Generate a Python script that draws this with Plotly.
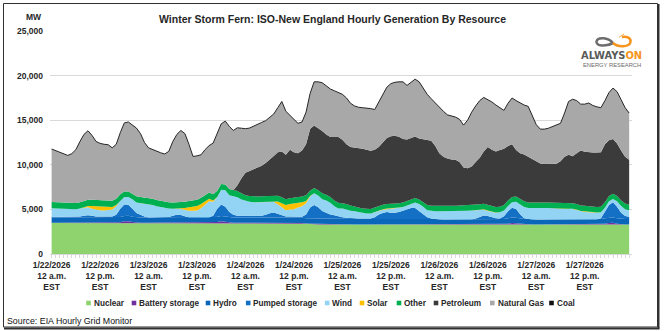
import plotly.graph_objects as go

# ---------------------------------------------------------------------------
# Hourly generation by resource, ISO-New England, 1/22/2026 00:00 - 1/27/2026 23:00 EST (MW)
# ---------------------------------------------------------------------------
HOURS = list(range(144))

TICK_HOURS = [0, 12, 24, 36, 48, 60, 72, 84, 96, 108, 120, 132]
TICK_LABELS = [
    "1/22/2026<br>12 a.m.<br>EST", "1/22/2026<br>12 p.m.<br>EST",
    "1/23/2026<br>12 a.m.<br>EST", "1/23/2026<br>12 p.m.<br>EST",
    "1/24/2026<br>12 a.m.<br>EST", "1/24/2026<br>12 p.m.<br>EST",
    "1/25/2026<br>12 a.m.<br>EST", "1/25/2026<br>12 p.m.<br>EST",
    "1/26/2026<br>12 a.m.<br>EST", "1/26/2026<br>12 p.m.<br>EST",
    "1/27/2026<br>12 a.m.<br>EST", "1/27/2026<br>12 p.m.<br>EST",
]

NUCLEAR = [
    3480, 3480, 3480, 3480, 3480, 3480, 3480, 3480, 3480, 3480, 3480, 3480, 3480, 3480, 3480, 3480, 3480, 3480, 3480, 3480, 3480, 3480, 3480, 3480,
    3480, 3480, 3480, 3480, 3480, 3480, 3480, 3480, 3480, 3480, 3480, 3480, 3480, 3480, 3480, 3480, 3480, 3480, 3480, 3480, 3480, 3480, 3480, 3480,
    3480, 3480, 3480, 3480, 3480, 3480, 3480, 3480, 3480, 3480, 3480, 3480, 3480, 3480, 3450, 3400, 3350, 3300, 3300, 3300, 3300, 3300, 3300, 3300,
    3300, 3300, 3300, 3300, 3300, 3300, 3300, 3300, 3300, 3300, 3300, 3300, 3300, 3300, 3300, 3300, 3300, 3300, 3300, 3300, 3300, 3300, 3300, 3300,
    3300, 3300, 3300, 3300, 3300, 3300, 3300, 3300, 3300, 3300, 3300, 3300, 3300, 3300, 3300, 3300, 3300, 3300, 3300, 3300, 3300, 3300, 3300, 3300,
    3300, 3300, 3300, 3300, 3300, 3300, 3300, 3300, 3300, 3300, 3300, 3300, 3300, 3300, 3300, 3300, 3300, 3300, 3300, 3300, 3300, 3300, 3300, 3300,
]
BATTERY = [
    20, 20, 20, 20, 20, 20, 20, 20, 20, 20, 20, 20, 20, 20, 20, 20, 20, 80, 180, 200, 100, 20, 20, 20,
    20, 20, 20, 20, 20, 20, 60, 80, 40, 20, 20, 20, 20, 20, 20, 20, 20, 100, 180, 120, 20, 20, 20, 20,
    20, 20, 20, 20, 20, 20, 50, 60, 20, 20, 20, 20, 20, 20, 20, 20, 60, 80, 40, 20, 20, 20, 40, 20,
    20, 20, 20, 20, 20, 20, 20, 20, 20, 20, 50, 60, 20, 20, 20, 20, 20, 60, 70, 20, 20, 20, 20, 20,
    20, 20, 20, 20, 20, 20, 20, 20, 20, 20, 20, 20, 20, 20, 20, 20, 20, 100, 180, 150, 60, 20, 20, 20,
    20, 20, 20, 20, 20, 20, 20, 20, 20, 20, 20, 20, 20, 20, 20, 20, 20, 100, 180, 200, 100, 20, 20, 20,
]
HYDRO = [
    600, 600, 600, 600, 600, 600, 600, 600, 600, 600, 600, 600, 600, 600, 600, 600, 600, 600, 600, 600, 600, 600, 600, 600,
    600, 600, 600, 600, 600, 600, 600, 600, 600, 600, 600, 600, 600, 600, 600, 600, 600, 600, 600, 600, 600, 600, 600, 600,
    600, 600, 600, 600, 600, 600, 600, 600, 600, 600, 600, 600, 600, 600, 600, 600, 600, 600, 600, 600, 600, 600, 600, 600,
    600, 600, 600, 600, 600, 600, 600, 600, 600, 600, 600, 600, 600, 600, 600, 600, 600, 600, 600, 600, 600, 600, 600, 600,
    550, 550, 550, 550, 550, 550, 550, 550, 550, 600, 600, 600, 600, 600, 600, 600, 600, 600, 600, 600, 600, 600, 600, 550,
    550, 550, 550, 550, 550, 550, 550, 550, 550, 550, 550, 550, 550, 550, 550, 550, 600, 600, 600, 600, 600, 600, 600, 600,
]
PUMPED_STORAGE = [
    50, 50, 50, 50, 50, 50, 50, 100, 200, 250, 200, 100, 100, 100, 100, 100, 300, 900, 1300, 1250, 900, 500, 300, 100,
    0, 0, 0, 0, 0, 50, 150, 250, 250, 100, 0, 0, 0, 0, 0, 0, 200, 900, 1300, 1100, 600, 300, 200, 150,
    200, 200, 200, 200, 200, 300, 450, 500, 400, 200, 100, 100, 100, 100, 100, 400, 1200, 1500, 1300, 900, 700, 500, 400, 300,
    200, 150, 100, 50, 50, 50, 50, 50, 200, 500, 650, 750, 700, 700, 800, 950, 1100, 1200, 1200, 900, 500, 200, 50, 0,
    0, 0, 0, 0, 0, 0, 0, 0, 0, 50, 250, 400, 350, 200, 100, 50, 300, 800, 1100, 1000, 500, 100, 0, 0,
    0, 0, 0, 0, 0, 0, 0, 0, 0, 0, 0, 0, 0, 0, 0, 0, 100, 700, 1400, 1700, 1300, 700, 350, 250,
]
WIND = [
    980, 950, 920, 900, 880, 870, 870, 900, 900, 890, 780, 760, 700, 690, 710, 780, 950, 910, 840, 870, 1070, 1180, 1300, 1450,
    1500, 1400, 1250, 1150, 1100, 950, 790, 690, 670, 750, 750, 750, 790, 1020, 1400, 1800, 1550, 1290, 1640, 1850, 1900, 2050, 2050, 1850,
    1650, 1550, 1510, 1510, 1520, 1450, 1290, 1190, 1080, 900, 700, 780, 830, 1000, 1190, 1280, 1240, 1320, 1310, 1330, 1380, 1330, 1010, 880,
    980, 930, 830, 830, 730, 630, 580, 570, 580, 460, 370, 310, 460, 440, 460, 410, 430, 540, 610, 780, 880, 780, 840, 880,
    910, 910, 920, 920, 930, 940, 960, 990, 1010, 940, 760, 650, 550, 570, 610, 710, 660, 580, 620, 810, 1120, 1260, 1240, 1270,
    1260, 1270, 1280, 1290, 1290, 1290, 1290, 1290, 1290, 1180, 1050, 880, 830, 800, 770, 760, 660, 480, 420, 360, 600, 760, 760, 740,
]
SOLAR = [
    0, 0, 0, 0, 0, 0, 0, 0, 50, 150, 300, 400, 450, 450, 400, 300, 150, 30, 0, 0, 0, 0, 0, 0,
    0, 0, 0, 0, 0, 0, 0, 0, 50, 200, 400, 500, 500, 480, 400, 300, 150, 30, 0, 0, 0, 0, 0, 0,
    0, 0, 0, 0, 0, 0, 0, 50, 300, 500, 600, 620, 620, 550, 450, 250, 50, 0, 0, 0, 0, 0, 0, 0,
    0, 0, 0, 0, 0, 0, 0, 0, 0, 20, 60, 80, 60, 40, 20, 0, 0, 0, 0, 0, 0, 0, 0, 0,
    0, 0, 0, 0, 0, 0, 0, 0, 0, 0, 30, 50, 60, 40, 20, 0, 0, 0, 0, 0, 0, 0, 0, 0,
    0, 0, 0, 0, 0, 0, 0, 0, 0, 30, 60, 80, 80, 60, 40, 20, 0, 0, 0, 0, 0, 0, 0, 0,
]
OTHER = [
    700, 700, 700, 700, 700, 700, 700, 700, 700, 700, 700, 700, 700, 700, 700, 700, 700, 700, 600, 600, 600, 700, 700, 700,
    700, 700, 700, 700, 700, 700, 700, 700, 700, 700, 700, 700, 700, 700, 700, 700, 700, 700, 650, 650, 700, 700, 700, 700,
    650, 650, 650, 650, 650, 650, 650, 650, 650, 650, 650, 650, 650, 650, 650, 650, 600, 600, 600, 650, 650, 650, 650, 650,
    600, 600, 600, 500, 500, 500, 500, 500, 500, 500, 500, 500, 500, 500, 500, 500, 500, 500, 500, 500, 500, 600, 600, 600,
    620, 620, 620, 620, 620, 620, 620, 620, 620, 620, 620, 620, 620, 620, 620, 620, 620, 620, 600, 600, 620, 620, 620, 620,
    620, 620, 620, 620, 620, 620, 620, 620, 620, 620, 620, 620, 620, 620, 620, 620, 620, 620, 600, 600, 600, 620, 620, 620,
]
PETROLEUM = [
    0, 0, 0, 0, 0, 0, 0, 0, 0, 0, 0, 0, 0, 0, 0, 0, 0, 0, 0, 0, 0, 0, 0, 0,
    0, 0, 0, 0, 0, 0, 0, 0, 0, 0, 0, 0, 0, 0, 0, 0, 0, 0, 0, 0, 0, 0, 650, 1700,
    2500, 2760, 3040, 3240, 3430, 3700, 4030, 4470, 4870, 5150, 4980, 5450, 5100, 4900, 5140, 5700, 6900, 7000, 6950, 7000, 6750, 6720, 7120, 7370,
    7100, 6700, 6550, 6650, 6700, 6700, 6650, 6540, 6500, 6600, 6970, 7400, 7560, 7660, 7450, 7120, 6900, 6850, 6900, 6850, 7050, 7280, 7290, 6700,
    5900, 5500, 5290, 5190, 5150, 4870, 4250, 4120, 4300, 4770, 5220, 5860, 6490, 6350, 6230, 6350, 6300, 6100, 5900, 5190, 5100, 5250, 5120, 4890,
    4650, 4390, 4320, 4310, 4320, 4340, 4620, 5120, 5350, 5250, 5700, 6150, 6050, 6040, 6090, 6120, 6100, 6500, 6250, 6130, 5900, 5600, 5250, 5040,
]
NATURAL_GAS = [
    5940, 5800, 5630, 5450, 5320, 5530, 5980, 6800, 7450, 7730, 7220, 6560, 6350, 6260, 6240, 5920, 6100, 6900, 7700, 7800, 7750, 7640, 7100, 6150,
    5600, 5500, 5450, 5400, 5310, 5700, 6820, 7600, 8060, 7650, 6350, 4890, 4910, 4830, 5100, 5250, 5740, 6400, 6750, 7100, 7000, 6700, 6450, 5600,
    4950, 4860, 4800, 4800, 4850, 4750, 4750, 4700, 5000, 5600, 4870, 3800, 3700, 3350, 3200, 3600, 4000, 4900, 5200, 5400, 5400, 5380, 5180, 4980,
    5100, 5200, 4900, 4650, 4550, 4600, 4680, 4720, 4500, 5000, 5300, 5700, 5900, 5990, 6150, 6400, 6050, 6150, 6420, 6350, 5750, 5120, 4700, 4800,
    5200, 5100, 4900, 4850, 4780, 4800, 4750, 5400, 6100, 6300, 6400, 6050, 5310, 5350, 5200, 4750, 4300, 4800, 5190, 5550, 5600, 5550, 5650, 4850,
    4100, 3850, 3910, 4010, 4200, 4330, 4250, 4900, 5970, 6400, 5900, 5200, 5350, 5540, 5260, 5110, 5000, 4900, 5350, 5710, 5800, 5700, 5500, 5230,
]
COAL = [
    0, 0, 0, 0, 0, 0, 0, 0, 0, 0, 0, 0, 0, 0, 0, 0, 0, 0, 0, 0, 0, 0, 0, 0,
    0, 0, 0, 0, 0, 0, 0, 0, 0, 0, 0, 0, 0, 0, 0, 0, 0, 0, 0, 0, 0, 0, 0, 0,
    0, 0, 0, 0, 0, 0, 0, 0, 0, 0, 0, 0, 0, 0, 0, 0, 0, 0, 0, 0, 0, 0, 0, 0,
    0, 0, 0, 0, 0, 0, 0, 0, 0, 0, 0, 0, 0, 0, 0, 0, 0, 0, 0, 0, 0, 0, 0, 0,
    0, 0, 0, 0, 0, 0, 0, 0, 0, 0, 0, 0, 0, 0, 0, 0, 0, 0, 0, 0, 0, 0, 0, 0,
    0, 0, 0, 0, 0, 0, 0, 0, 0, 0, 0, 0, 0, 0, 0, 0, 0, 0, 0, 0, 0, 0, 0, 0,
]

RESOURCES = ["Nuclear", "Battery storage", "Hydro", "Pumped storage", "Wind",
             "Solar", "Other", "Petroleum", "Natural Gas", "Coal"]
VALUES = [NUCLEAR, BATTERY, HYDRO, PUMPED_STORAGE, WIND, SOLAR, OTHER,
          PETROLEUM, NATURAL_GAS, COAL]
for vals in VALUES:
    assert len(vals) == len(HOURS)

# ---------------------------------------------------------------------------
# Styling
# ---------------------------------------------------------------------------
COLORS = {
    "Nuclear": "#8fd36f",
    "Battery storage": "#7030a0",
    "Hydro": "#0a66b8",
    "Pumped storage": "#1470c4",
    "Wind": "#93d4f4",
    "Solar": "#ffc000",
    "Other": "#00b050",
    "Petroleum": "#3b3b3b",
    "Natural Gas": "#a8a8a8",
    "Coal": "#111111",
}
FONT = "Liberation Sans, Arial, sans-serif"
TEXT = "#262626"

W, H = 664, 331
ML, MR, MT, MB = 50, 32, 31, 77
PW, PH = W - ML - MR, H - MT - MB


def xp(px):
    return (px - ML) / PW


def yp(py):
    return (MT + PH - py) / PH


def note(text, x, y, anchor="center", **font):
    """Free-standing text placed in pixel coordinates of the figure."""
    return dict(text=text, x=xp(x), y=yp(y), xref="paper", yref="paper",
                xanchor=anchor, yanchor="middle", showarrow=False, borderpad=0,
                font=font)


fig = go.Figure()
for name, vals in zip(RESOURCES, VALUES):
    edge = dict(width=1, color="#262626") if name == "Coal" else dict(width=0, color=COLORS[name])
    fig.add_trace(go.Scatter(
        x=HOURS, y=vals, name=name, mode="lines", stackgroup="gen",
        line=edge, fillcolor=COLORS[name], showlegend=False,
    ))

annotations = []
shapes = []

# title, unit label and source note
annotations.append(note("Winter Storm Fern: ISO-New England Hourly Generation By Resource", 332, 19.5,
                        size=10.5, weight="bold", color=TEXT))
annotations.append(note("MW", 34, 17.5, size=8.5, weight="bold", color=TEXT))
annotations.append(note("Source: EIA Hourly Grid Monitor", 6, 321, anchor="left",
                        size=8.8, color="#111111"))

# legend row: small colour squares followed by labels
LEGEND_X = [88.5, 134.0, 208.0, 248.2, 327.2, 362.0, 399.0, 436.0, 492.3, 551.5]
LEG_Y = 303
for name, sx in zip(RESOURCES, LEGEND_X):
    shapes.append(dict(type="rect", xref="paper", yref="paper",
                       x0=xp(sx - 2.3), x1=xp(sx + 2.3), y0=yp(LEG_Y + 2.3), y1=yp(LEG_Y - 2.3),
                       fillcolor=COLORS[name], line=dict(width=0)))
    annotations.append(note(name, sx + 4.2, LEG_Y, anchor="left", size=8.2, weight="bold", color=TEXT))

# logo block in the top-right corner
shapes.append(dict(type="rect", xref="paper", yref="paper", layer="above",
                   x0=xp(576), x1=xp(650), y0=yp(72), y1=yp(27),
                   fillcolor="white", line=dict(width=0)))


def path(cmds):
    out = []
    for op, pts in cmds:
        out.append(op + " " + " ".join(f"{xp(x):.5f},{yp(y):.5f}" for x, y in pts))
    return " ".join(out)


shapes.append(dict(type="path", xref="paper", yref="paper", layer="above",
                   path=path([("M", [(613, 43)]), ("C", [(608, 37.5), (598, 36.5), (596.5, 41.5)]),
                              ("C", [(595.5, 46), (606, 47), (613, 43)])]),
                   line=dict(color="#6d6d6d", width=2.6)))
shapes.append(dict(type="path", xref="paper", yref="paper", layer="above",
                   path=path([("M", [(613, 43)]), ("C", [(618, 47.5), (630, 47.5), (630.5, 41.5)]),
                              ("C", [(631, 38), (627, 36), (622, 37)])]),
                   line=dict(color="#f7941d", width=2.6)))
shapes.append(dict(type="path", xref="paper", yref="paper", layer="above",
                   path=path([("M", [(624, 34)]), ("L", [(619, 37.3), (624.5, 39.8)]), ("Z", [])]),
                   fillcolor="#f7941d", line=dict(color="#f7941d", width=0.5)))
annotations.append(note("<span style='color:#5a5a5a'>ALWAYS</span><span style='color:#f7941d'>ON</span>",
                        611.5, 55.5, size=11, weight="bold",
                        family="DejaVu Sans Condensed, Liberation Sans"))
annotations.append(note("ENERGY RESEARCH", 611.5, 65, size=5.8, color="#6d6d6d"))

# frame around the whole graphic
shapes.append(dict(type="rect", xref="paper", yref="paper", layer="above",
                   x0=xp(3.5), x1=xp(657.5), y0=yp(327), y1=yp(3.5),
                   line=dict(color="#303030", width=1)))
shapes.append(dict(type="line", xref="paper", yref="paper", layer="above",
                   x0=xp(658.5), x1=xp(658.5), y0=yp(328.5), y1=yp(4),
                   line=dict(color="#303030", width=2)))
shapes.append(dict(type="line", xref="paper", yref="paper", layer="above",
                   x0=xp(4), x1=xp(659.5), y0=yp(328.5), y1=yp(328.5),
                   line=dict(color="#303030", width=2)))

fig.update_layout(
    width=W, height=H,
    margin=dict(l=ML, r=MR, t=MT, b=MB),
    paper_bgcolor="white", plot_bgcolor="white",
    showlegend=False,
    font=dict(family=FONT, color=TEXT),
    annotations=annotations, shapes=shapes,
    xaxis=dict(
        range=[-0.4, 143.7], tickmode="array", tickvals=TICK_HOURS, ticktext=TICK_LABELS,
        tickfont=dict(size=8.5, weight="bold", color=TEXT),
        showgrid=False, zeroline=False, showline=True, linecolor="#d9d9d9", linewidth=1,
        ticks="outside", ticklen=3, tickcolor="#d9d9d9",
        minor=dict(dtick=1, tick0=0, ticks="outside", ticklen=3, tickcolor="#d9d9d9", showgrid=False),
        automargin=False,
    ),
    yaxis=dict(
        range=[0, 25000], dtick=5000, tickformat=",",
        tickfont=dict(size=8.5, weight="bold", color=TEXT),
        showgrid=True, gridcolor="#d9d9d9", gridwidth=1, zeroline=False, showline=False,
        ticks="", ticklabelstandoff=6, automargin=False,
    ),
)

fig.write_html("out.html")
